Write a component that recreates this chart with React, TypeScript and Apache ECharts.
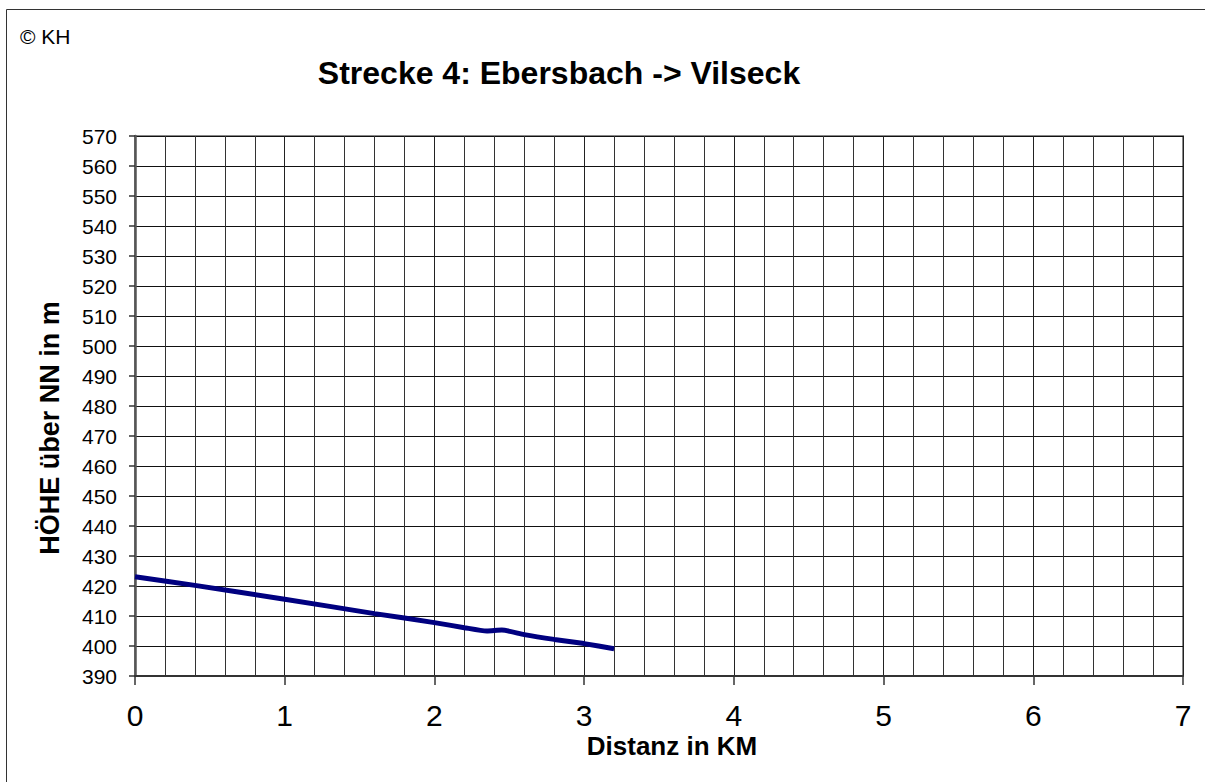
import React, { useEffect, useRef } from "react";
import * as echarts from "echarts";

const distanceKm = [0, 0.4, 1, 1.6, 2, 2.2, 2.35, 2.45, 2.6, 2.8, 3.0, 3.2];
const heightM = [423.1, 420.2, 415.6, 410.8, 407.8, 406.1, 405.0, 405.3, 403.8, 402.2, 400.8, 399.1];

const titleText = "Strecke 4: Ebersbach -> Vilseck";
const copyrightText = "© KH";
const xAxisTitle = "Distanz in KM";
const yAxisTitle = "HÖHE über NN in m";

const FONT = "'Liberation Sans', Arial, sans-serif";

export default function App() {
  const ref = useRef<HTMLDivElement>(null);
  useEffect(() => {
    document.body.style.margin = "0";
    const chart = echarts.init(ref.current!, null, { renderer: "svg" });
    const data = distanceKm.map((d, i) => [d, heightM[i]]);
    chart.setOption({
      animation: false,
      backgroundColor: "#ffffff",
      grid: {
        left: 135,
        top: 136,
        right: 22,
        bottom: 106,
        show: true,
        borderColor: "#888888",
        borderWidth: 2,
        backgroundColor: "transparent",
      },
      xAxis: {
        type: "value",
        min: 0,
        max: 7,
        interval: 1,
        axisLine: { show: true, onZero: false, lineStyle: { color: "#333333", width: 2 } },
        axisTick: { show: true, length: 9, lineStyle: { color: "#333333", width: 1.5 } },
        axisLabel: { fontSize: 30, color: "#000", margin: 24, fontFamily: FONT },
        splitLine: { show: true, lineStyle: { color: "#222222", width: 1 } },
        minorTick: { show: false, splitNumber: 5 },
        minorSplitLine: { show: true, lineStyle: { color: "#333333", width: 1 } },
      },
      yAxis: {
        type: "value",
        min: 390,
        max: 570,
        interval: 10,
        axisLine: { show: true, onZero: false, lineStyle: { color: "#555555", width: 2.5 } },
        axisTick: { show: true, length: 6, lineStyle: { color: "#333333", width: 1.5 } },
        axisLabel: { fontSize: 21, color: "#000", margin: 18, fontFamily: FONT },
        splitLine: { show: true, lineStyle: { color: "#111111", width: 1 } },
      },
      graphic: [
        {
          type: "polyline",
          z: -10,
          shape: { points: [[6.5, 800], [6.5, 9.5], [1220, 9.5]] },
          style: { fill: "none", stroke: "#333333", lineWidth: 1 },
        },
        {
          type: "text",
          x: 20,
          y: 36,
          style: { text: copyrightText, font: `21px ${FONT}`, fill: "#000", verticalAlign: "middle" },
        },
        {
          type: "text",
          x: 559,
          y: 73,
          style: {
            text: titleText,
            font: `bold 32px ${FONT}`,
            fill: "#000",
            align: "center",
            verticalAlign: "middle",
          },
        },
        {
          type: "text",
          x: 672,
          y: 746,
          style: {
            text: xAxisTitle,
            font: `bold 26px ${FONT}`,
            fill: "#000",
            align: "center",
            verticalAlign: "middle",
          },
        },
        {
          type: "text",
          x: 50,
          y: 428,
          rotation: Math.PI / 2,
          style: {
            text: yAxisTitle,
            font: `bold 27px ${FONT}`,
            fill: "#000",
            align: "center",
            verticalAlign: "middle",
          },
        },
      ],
      series: [
        {
          type: "line",
          data,
          showSymbol: false,
          symbol: "none",
          smooth: 0.2,
          lineStyle: { color: "#000080", width: 5 },
          z: 5,
        },
      ],
    });
    return () => chart.dispose();
  }, []);
  return (
    <div
      ref={ref}
      style={{ position: "absolute", left: 0, top: 0, width: 1205, height: 782 }}
    />
  );
}
